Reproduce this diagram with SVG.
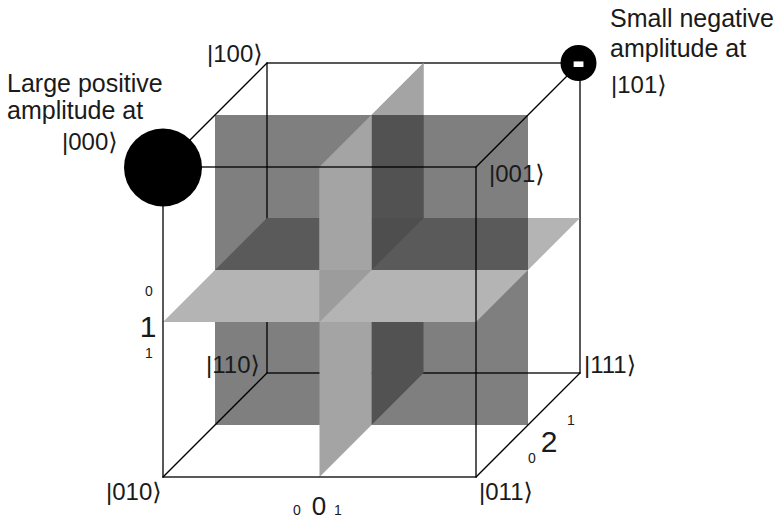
<svg xmlns="http://www.w3.org/2000/svg" width="781" height="521" viewBox="0 0 781 521">
<style>
.e{stroke:#000;stroke-width:1.3;fill:none;stroke-linecap:square}
.t{font-family:"Liberation Sans",Arial,"DejaVu Sans",sans-serif;fill:#1a1a1a}
.w{font-size:25px}
.k{font-size:24px}
.big{font-size:30px}
.sm{font-size:14px}
.pC{fill:#a4a4a4}
.pB{fill:#b4b4b4}
.pX{fill:#9c9c9c}
</style>
<rect width="781" height="521" fill="#fff"/>
<g id="back-edges">
<rect class="e" x="267" y="63" width="313" height="310"/>
<path class="e" d="M163 167L267 63M476 167L580 63M476 477L580 373M163 477L267 373"/>
</g>
<g id="planes-back">
<polygon class="pC" points="371.5,115 423.5,63 423.5,373 371.5,425"/>
<polygon class="pB" points="215,270 528,270 580,218 267,218"/>
<polygon class="pC" points="371.5,115 423.5,63 423.5,218 371.5,270"/>
<polygon class="pX" points="371.5,218 423.5,218 371.5,270"/>
</g>
<g id="plane-mid">
<rect x="215" y="115" width="313" height="310" fill="#000" fill-opacity="0.5"/>
</g>
<g id="planes-front">
<polygon class="pC" points="319.5,167 371.5,115 371.5,425 319.5,477"/>
<polygon class="pB" points="163,322 476,322 528,270 215,270"/>
<polygon class="pC" points="319.5,167 371.5,115 371.5,270 319.5,322"/>
<polygon class="pX" points="319.5,270 371.5,270 319.5,322"/>
</g>
<g id="front-edges">
<rect class="e" x="163" y="167" width="313" height="310"/>
</g>
<g id="amp000">
<circle cx="163" cy="167.5" r="39" fill="#000"/>
</g>
<g id="amp101">
<circle cx="578.5" cy="63" r="18" fill="#000"/>
<text x="578.5" y="72" text-anchor="middle" style="font-family:'Liberation Sans',Arial,sans-serif;font-size:30px;font-weight:bold;fill:#fff;stroke:#fff;stroke-width:2">-</text>
</g>
<g id="labels">
<text class="t w" x="7" y="92">Large positive</text>
<text class="t w" x="7" y="119">amplitude at</text>
<text class="t k" x="62" y="150">|000⟩</text>
<text class="t w" x="610" y="27">Small negative</text>
<text class="t w" x="610" y="57">amplitude at</text>
<text class="t k" x="611" y="93">|101⟩</text>
<text class="t k" x="207" y="62">|100⟩</text>
<text class="t k" x="489" y="182">|001⟩</text>
<text class="t k" x="206" y="373">|110⟩</text>
<text class="t k" x="584" y="373">|111⟩</text>
<text class="t k" x="106" y="500">|010⟩</text>
<text class="t k" x="479" y="500">|011⟩</text>
</g>
<g id="axis-labels">
<text class="t sm" x="149" y="296" text-anchor="middle">0</text>
<text class="t big" x="148" y="337" text-anchor="middle">1</text>
<text class="t sm" x="149" y="358" text-anchor="middle">1</text>
<text class="t sm" x="297" y="515" text-anchor="middle">0</text>
<text class="t" style="font-size:26px" x="319" y="515" text-anchor="middle">0</text>
<text class="t sm" x="338" y="515" text-anchor="middle">1</text>
<text class="t sm" x="532" y="463" text-anchor="middle">0</text>
<text class="t big" x="549" y="452" text-anchor="middle">2</text>
<text class="t sm" x="571" y="425" text-anchor="middle">1</text>
</g>
</svg>
